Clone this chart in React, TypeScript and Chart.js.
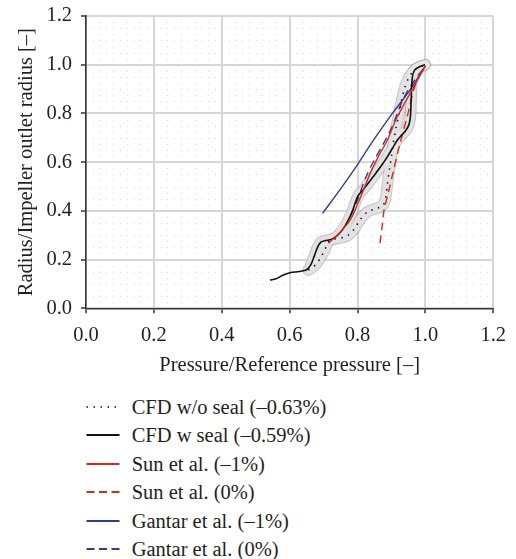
import React, { useEffect, useRef } from "react";
import { Chart, registerables } from "chart.js";

Chart.register(...registerables);

// CFD without seal (dotted)
const cfdNoSealX = [0.655, 0.668, 0.68, 0.694, 0.705, 0.713, 0.725, 0.748, 0.77, 0.788, 0.807, 0.827, 0.845, 0.862, 0.876, 0.883, 0.888, 0.894, 0.9, 0.906, 0.914, 0.921, 0.93, 0.94, 0.95, 0.962, 0.975, 1.0];
const cfdNoSealY = [0.157, 0.168, 0.185, 0.215, 0.245, 0.27, 0.282, 0.288, 0.298, 0.321, 0.362, 0.394, 0.405, 0.413, 0.425, 0.455, 0.51, 0.57, 0.625, 0.684, 0.745, 0.79, 0.855, 0.91, 0.944, 0.97, 0.986, 1.0];

// CFD with seal (solid black)
const cfdSealX = [0.542, 0.56, 0.58, 0.601, 0.628, 0.65, 0.662, 0.672, 0.682, 0.692, 0.709, 0.725, 0.739, 0.755, 0.772, 0.785, 0.795, 0.803, 0.817, 0.846, 0.871, 0.89, 0.905, 0.918, 0.93, 0.941, 0.951, 0.956, 0.958, 0.961, 0.968, 0.984, 0.999];
const cfdSealY = [0.116, 0.121, 0.136, 0.146, 0.151, 0.158, 0.178, 0.212, 0.25, 0.272, 0.279, 0.284, 0.297, 0.321, 0.36, 0.4, 0.44, 0.465, 0.487, 0.54, 0.587, 0.627, 0.662, 0.692, 0.711, 0.728, 0.752, 0.79, 0.86, 0.944, 0.978, 0.993, 1.0];

// Sun et al. (-1%)
const sunM1X = [0.714, 0.74, 0.778, 0.807, 0.837, 0.862, 0.886, 0.915, 0.955, 1.0];
const sunM1Y = [0.267, 0.3, 0.362, 0.45, 0.553, 0.625, 0.685, 0.78, 0.883, 0.995];

// Sun et al. (0%)
const sun0X = [0.866, 0.872, 0.879, 0.89, 0.905, 0.925, 0.95, 0.964, 0.98, 1.0];
const sun0Y = [0.267, 0.33, 0.41, 0.47, 0.56, 0.675, 0.807, 0.889, 0.95, 0.995];

// Gantar et al. (-1%)
const gantarM1X = [0.697, 0.748, 0.8, 0.846, 0.9, 0.955, 1.0];
const gantarM1Y = [0.39, 0.486, 0.59, 0.688, 0.795, 0.897, 0.995];

// Gantar et al. (0%)
const gantar0X = [0.78, 0.8, 0.825, 0.85, 0.88, 0.9, 0.935, 0.965, 1.0];
const gantar0Y = [0.38, 0.445, 0.54, 0.61, 0.685, 0.74, 0.86, 0.93, 0.995];

const xTicks = [0, 0.2, 0.4, 0.6, 0.8, 1.0, 1.2];
const yTicks = [0, 0.2, 0.4, 0.6, 0.8, 1.0, 1.2];

const legendLabels = [
  "CFD w/o seal (\u20130.63%)",
  "CFD w seal (\u20130.59%)",
  "Sun et al. (\u20131%)",
  "Sun et al. (0%)",
  "Gantar et al. (\u20131%)",
  "Gantar et al. (0%)",
];

const FONT = "'Liberation Serif', 'Times New Roman', serif";
const RED = "#d9281e";
const BLUE = "#2b3f98";
const BLACK = "#111111";

const pts = (xs: number[], ys: number[]) => xs.map((x, i) => ({ x, y: ys[i] }));

const bandStartIdx = cfdSealX.findIndex((x) => x >= 0.66);

const minorGrid = {
  id: "minorGrid",
  beforeDatasetsDraw(chart: any) {
    const { ctx, chartArea, scales } = chart;
    const xs = scales.x;
    const ys = scales.y;
    ctx.save();
    ctx.fillStyle = "#d9d9d9";
    for (let i = 1; i < 30; i++) {
      if (i % 5 === 0) continue;
      const px = Math.round(xs.getPixelForValue(i * 0.04));
      for (let j = 1; j < 48; j++) {
        const py = Math.round(ys.getPixelForValue(j * 0.025));
        if (py <= chartArea.top + 1 || py >= chartArea.bottom - 1) continue;
        ctx.fillRect(px, py, 1, 1);
      }
    }
    for (let j = 1; j < 24; j++) {
      if (j % 4 === 0) continue;
      const py = Math.round(ys.getPixelForValue(j * 0.05));
      for (let i = 1; i < 60; i++) {
        const px = Math.round(xs.getPixelForValue(i * 0.02));
        if (px <= chartArea.left + 1 || px >= chartArea.right - 1) continue;
        ctx.fillRect(px, py, 1, 1);
      }
    }
    ctx.restore();
  },
};

const legendStyles: { color: string; dash: string; width: number }[] = [
  { color: BLACK, dash: "1.5 5.5", width: 1.5 },
  { color: BLACK, dash: "", width: 2 },
  { color: RED, dash: "", width: 2 },
  { color: RED, dash: "8 4.5", width: 2 },
  { color: BLUE, dash: "", width: 2 },
  { color: BLUE, dash: "8 4.5", width: 2 },
];

const legendCenters = [407, 435, 463.5, 492, 520.5, 549];

export default function App() {
  const ref = useRef<HTMLCanvasElement>(null);

  useEffect(() => {
    if (!ref.current) return;
    const bandOuter = "rgba(150,150,150,0.55)";
    const bandInner = "rgba(232,232,232,0.85)";
    const base = { showLine: true, pointRadius: 0, tension: 0.3, fill: false };
    const chart = new Chart(ref.current, {
      type: "scatter",
      data: {
        datasets: [
          { ...base, label: "band1o", data: pts(cfdNoSealX, cfdNoSealY), borderColor: bandOuter, borderWidth: 11.5, borderCapStyle: "round", borderJoinStyle: "round", order: 31 },
          { ...base, label: "band2o", data: pts(cfdSealX.slice(bandStartIdx), cfdSealY.slice(bandStartIdx)), borderColor: bandOuter, borderWidth: 11.5, borderCapStyle: "round", borderJoinStyle: "round", order: 30 },
          { ...base, label: "band1i", data: pts(cfdNoSealX, cfdNoSealY), borderColor: bandInner, borderWidth: 9.5, borderCapStyle: "round", borderJoinStyle: "round", order: 21 },
          { ...base, label: "band2i", data: pts(cfdSealX.slice(bandStartIdx), cfdSealY.slice(bandStartIdx)), borderColor: bandInner, borderWidth: 9.5, borderCapStyle: "round", borderJoinStyle: "round", order: 20 },
          { ...base, label: legendLabels[4], data: pts(gantarM1X, gantarM1Y), borderColor: BLUE, borderWidth: 1.4, order: 6 },
          { ...base, label: legendLabels[5], data: pts(gantar0X, gantar0Y), borderColor: BLUE, borderWidth: 1.4, borderDash: [8, 5], order: 5 },
          { ...base, label: legendLabels[0], data: pts(cfdNoSealX, cfdNoSealY), borderColor: BLACK, borderWidth: 1.6, borderDash: [1.5, 5.5], order: 4 },
          { ...base, label: legendLabels[3], data: pts(sun0X, sun0Y), borderColor: RED, borderWidth: 1.4, borderDash: [8, 5], order: 3 },
          { ...base, label: legendLabels[1], data: pts(cfdSealX, cfdSealY), borderColor: BLACK, borderWidth: 1.6, order: 2 },
          { ...base, label: legendLabels[2], data: pts(sunM1X, sunM1Y), borderColor: RED, borderWidth: 1.4, order: 1 },
        ],
      },
      options: {
        animation: false,
        responsive: false,
        devicePixelRatio: 1,
        layout: { padding: { left: 0, top: 16, right: 22.7, bottom: 0 } },
        plugins: { legend: { display: false }, tooltip: { enabled: false } },
        scales: {
          x: {
            type: "linear",
            min: 0,
            max: 1.2,
            afterBuildTicks: (s: any) => {
              s.ticks = xTicks.map((v) => ({ value: v }));
            },
            afterFit: (s: any) => {
              s.height = 81.7;
              s.paddingLeft = 0;
              s.paddingRight = 0;
            },
            ticks: {
              font: { family: FONT, size: 20.5 },
              color: "#231f20",
              padding: 10.5,
              maxRotation: 0,
              callback: (v: any) => Number(v).toFixed(1),
            },
            grid: { color: "#d6d6d6", lineWidth: 2, tickColor: "#333", tickWidth: 1.5, tickLength: 5 },
            border: { color: "#333", width: 1.6 },
            title: {
              display: true,
              text: "Pressure/Reference pressure [\u2013]",
              font: { family: FONT, size: 20.5 },
              color: "#231f20",
              padding: { top: 0, bottom: 11.7 },
            },
          },
          y: {
            type: "linear",
            min: 0,
            max: 1.2,
            afterBuildTicks: (s: any) => {
              s.ticks = yTicks.map((v) => ({ value: v }));
            },
            afterFit: (s: any) => {
              s.width = 86;
              s.paddingTop = 0;
              s.paddingBottom = 0;
            },
            ticks: {
              font: { family: FONT, size: 20.5 },
              color: "#231f20",
              padding: 9,
              callback: (v: any) => Number(v).toFixed(1),
            },
            grid: { color: "#d6d6d6", lineWidth: 2, tickColor: "#333", tickWidth: 1.5, tickLength: 5 },
            border: { color: "#333", width: 1.6 },
            title: {
              display: true,
              text: "Radius/Impeller outlet radius [\u2013]",
              font: { family: FONT, size: 20.5 },
              color: "#231f20",
              padding: { top: 14, bottom: 0 },
            },
          },
        },
      },
      plugins: [minorGrid],
    } as any);
    return () => chart.destroy();
  }, []);

  return (
    <div style={{ position: "absolute", left: 0, top: 0, width: 516, height: 559, background: "#fff", overflow: "hidden" }}>
      <canvas ref={ref} width={516} height={390} style={{ display: "block", width: 516, height: 390 }} />
      {legendLabels.map((lab, i) => (
        <div
          key={lab}
          style={{
            position: "absolute",
            left: 0,
            top: legendCenters[i] - 14,
            height: 28,
            width: 516,
          }}
        >
          <svg width={34} height={28} style={{ position: "absolute", left: 85.5, top: 0 }}>
            <line
              x1={0.5}
              y1={14}
              x2={33.5}
              y2={14}
              stroke={legendStyles[i].color}
              strokeWidth={legendStyles[i].width}
              strokeDasharray={legendStyles[i].dash || undefined}
            />
          </svg>
          <span
            style={{
              position: "absolute",
              left: 131.7,
              top: 0,
              lineHeight: "28px",
              fontFamily: FONT,
              fontSize: 20.5,
              color: "#231f20",
              whiteSpace: "nowrap",
            }}
          >
            {lab}
          </span>
        </div>
      ))}
    </div>
  );
}
